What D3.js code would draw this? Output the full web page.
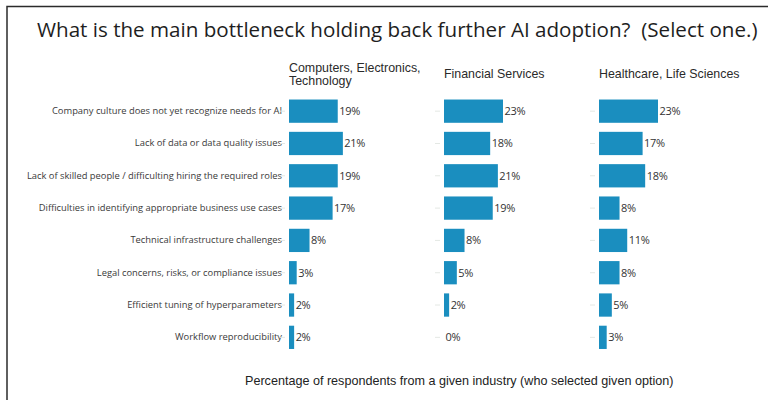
<!DOCTYPE html>
<html>
<head>
<meta charset="utf-8">
<script src="https://cdn.jsdelivr.net/npm/d3@7/dist/d3.min.js"></script>
<style>
  html, body { margin: 0; padding: 0; background: #fff; }
  svg { display: block; }
  text { white-space: pre; }
</style>
</head>
<body>
<svg id="chart" width="768" height="400"></svg>
<script>
// Survey answers, one row per bottleneck
const categories = [
  "Company culture does not yet recognize needs for AI",
  "Lack of data or data quality issues",
  "Lack of skilled people / difficulting hiring the required roles",
  "Difficulties in identifying appropriate business use cases",
  "Technical infrastructure challenges",
  "Legal concerns, risks, or compliance issues",
  "Efficient tuning of hyperparameters",
  "Workflow reproducibility"
];

// Industries (panel headers; each entry is a list of header lines)
const industries = [
  ["Computers, Electronics,", "Technology"],
  ["Financial Services"],
  ["Healthcare, Life Sciences"]
];

// Share of respondents (%) per industry, in category order
const computersValues  = [19, 21, 19, 17, 8, 3, 2, 2];
const financialValues  = [23, 18, 21, 19, 8, 5, 2, 0];
const healthcareValues = [23, 17, 18, 8, 11, 8, 5, 3];
const seriesValues = [computersValues, financialValues, healthcareValues];

const titleText = "What is the main bottleneck holding back further AI adoption?  (Select one.)";
const footerText = "Percentage of respondents from a given industry (who selected given option)";

const svg = d3.select("#chart");
const W = 768, H = 400;

// frame lines (top and left)
svg.append("path")
  .attr("d", `M7,${H} L7,6.5 L${W},6.5`)
  .attr("fill", "none")
  .attr("stroke", "#2b2b2b")
  .attr("stroke-width", 1.5);

svg.append("text")
  .attr("x", 37).attr("y", 37)
  .attr("font-family", "'Open Sans', sans-serif")
  .attr("font-size", 20.6)
  .attr("fill", "#1e1e1e")
  .text(titleText);

const panelX = d3.scaleBand()
  .domain(d3.range(industries.length))
  .range([289, 289 + 155 * 3])
  .paddingInner(0);

const y = d3.scaleBand()
  .domain(categories)
  .range([95, 353.5])
  .paddingInner(0.28)
  .paddingOuter(0.14);

const x = d3.scaleLinear().domain([0, 23]).range([0, 59]);

// category labels
const yAxis = d3.axisLeft(y).tickSize(0).tickPadding(0);
const yg = svg.append("g")
  .attr("transform", "translate(282,0)")
  .call(yAxis);
yg.select(".domain").remove();
yg.selectAll("text")
  .attr("font-family", "'Open Sans', sans-serif")
  .attr("font-size", 9.35)
  .attr("fill", "#3a3a3a");

industries.forEach((lines, i) => {
  const g = svg.append("g").attr("transform", `translate(${panelX(i)},0)`);

  // header
  const header = g.append("text")
    .attr("font-family", "'Liberation Sans', Arial, sans-serif")
    .attr("font-size", 12.4)
    .attr("fill", "#2a2a2a");
  const baseY = lines.length === 2 ? 71.5 : 78;
  lines.forEach((t, k) => {
    header.append("tspan").attr("x", 0).attr("y", baseY + k * 13.5).text(t);
  });

  // faint tick marks
  g.selectAll("line.tick")
    .data(categories)
    .join("line")
    .attr("class", "tick")
    .attr("x1", -9).attr("x2", -4)
    .attr("y1", d => y(d) + y.bandwidth() / 2)
    .attr("y2", d => y(d) + y.bandwidth() / 2)
    .attr("stroke", "#e4e8e4")
    .attr("stroke-width", 1);

  const vals = seriesValues[i];

  g.selectAll("rect")
    .data(vals)
    .join("rect")
    .attr("x", 0)
    .attr("y", (d, j) => y(categories[j]))
    .attr("width", d => x(d))
    .attr("height", y.bandwidth())
    .attr("fill", "#1a8ebf");

  g.selectAll("text.val")
    .data(vals)
    .join("text")
    .attr("class", "val")
    .attr("x", d => x(d) + 1.5)
    .attr("y", (d, j) => y(categories[j]) + y.bandwidth() / 2)
    .attr("dy", "0.35em")
    .attr("font-family", "'Open Sans', sans-serif")
    .attr("font-size", 11)
    .attr("letter-spacing", -0.3)
    .attr("fill", "#333")
    .text(d => d + "%");
});

svg.append("text")
  .attr("x", 245).attr("y", 385)
  .attr("font-family", "'Liberation Sans', Arial, sans-serif")
  .attr("font-size", 12.6)
  .attr("fill", "#222")
  .text(footerText);
</script>
</body>
</html>
